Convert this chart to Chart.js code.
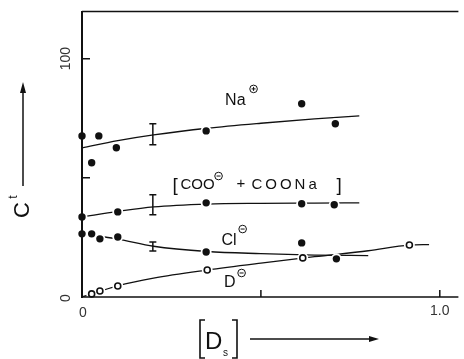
<!DOCTYPE html>
<html>
<head>
<meta charset="utf-8">
<script src="https://cdn.jsdelivr.net/npm/chart.js@4"></script>
<style>
  html, body { margin: 0; padding: 0; background: #fff; }
  #wrap { width: 464px; height: 359px; }
</style>
</head>
<body>
<div id="wrap"><canvas id="chart"></canvas></div>
<script>
// axis ranges and ticks
const xMax = 1.052;
const yMax = 120;
const xTicks = [0.5, 1.0];
const yTicks = [50, 100];

// measured concentrations vs [Ds]
const naX = [0, 0.027, 0.047, 0.096, 0.347, 0.614, 0.708];
const naY = [67.6, 56.3, 67.6, 62.6, 69.7, 81.1, 72.7];
const cooX = [0, 0.1, 0.347, 0.614, 0.705];
const cooY = [33.6, 35.7, 39.5, 39.1, 38.7];
const clX = [0, 0.027, 0.05, 0.1, 0.347, 0.614, 0.711];
const clY = [26.5, 26.5, 24.4, 25.2, 18.9, 22.7, 16.0];
const dX = [0.027, 0.05, 0.1, 0.35, 0.617, 0.915];
const dY = [1.3, 2.5, 4.6, 11.3, 16.4, 21.8];

// hand-drawn trend curves
const naCurveX = [0, 0.1, 0.2, 0.35, 0.5, 0.65, 0.775];
const naCurveY = [62.6, 65.6, 68, 70.8, 72.9, 74.7, 76];
const cooCurveX = [0, 0.1, 0.2, 0.35, 0.5, 0.65, 0.775];
const cooCurveY = [33.6, 35.9, 37.8, 39.0, 39.3, 39.4, 39.5];
const clCurveX = [0, 0.1, 0.2, 0.35, 0.5, 0.65, 0.8];
const clCurveY = [26.5, 24.3, 21.3, 19.1, 18.2, 17.6, 17.4];
const dCurveX = [0, 0.1, 0.2, 0.35, 0.5, 0.65, 0.8, 0.915, 0.97];
const dCurveY = [0, 4.7, 7.9, 11.3, 14.2, 16.9, 19.4, 21.8, 22.0];

// error bars at one concentration: [low, high]
const errX = 0.198;
const naErr = [63.9, 72.7];
const cooErr = [34.5, 42.9];
const clErr = [19.3, 23.1];

const pts = (xs, ys) => xs.map((x, i) => ({ x: x, y: ys[i] }));
const INK = '#111';
const FONT = '"Liberation Sans", Arial, sans-serif';

function curve(xs, ys) {
  return {
    data: pts(xs, ys), showLine: true, borderColor: INK, borderWidth: 1.3,
    pointRadius: 0, cubicInterpolationMode: 'monotone', order: 5
  };
}
function halo(xs, ys) {
  return {
    data: pts(xs, ys), showLine: false, pointRadius: 5.5,
    pointBackgroundColor: '#fff', pointBorderWidth: 0, clip: false, order: 3
  };
}
function filled(xs, ys) {
  return {
    data: pts(xs, ys), showLine: false, pointRadius: 3.7,
    pointBackgroundColor: INK, pointBorderWidth: 0, clip: false, order: 1
  };
}
function hollow(xs, ys) {
  return {
    data: pts(xs, ys), showLine: false, pointRadius: 3,
    pointBackgroundColor: '#fff', pointBorderColor: INK, pointBorderWidth: 1.6,
    clip: false, order: 1
  };
}
function errbar(range) {
  return {
    data: [{ x: errX, y: range[0] }, { x: errX, y: range[1] }],
    showLine: true, borderColor: INK, borderWidth: 1.5,
    pointStyle: 'line', pointRadius: 3.5, pointBorderColor: INK,
    pointBorderWidth: 1.5, order: 2
  };
}

// small circled charge sign
function charge(ctx, cx, cy, sign) {
  ctx.save();
  ctx.lineWidth = 1;
  ctx.beginPath();
  ctx.arc(cx, cy, 3.8, 0, Math.PI * 2);
  ctx.moveTo(cx - 2, cy); ctx.lineTo(cx + 2, cy);
  if (sign > 0) { ctx.moveTo(cx, cy - 2); ctx.lineTo(cx, cy + 2); }
  ctx.stroke();
  ctx.restore();
}

const decor = {
  id: 'decor',
  afterDraw(chart) {
    const { ctx, scales: { x, y } } = chart;
    const X = v => x.getPixelForValue(v);
    const Y = v => y.getPixelForValue(v);
    ctx.save();
    ctx.strokeStyle = INK;
    ctx.fillStyle = INK;

    // frame: left axis, top rule, base line
    ctx.lineWidth = 2;
    ctx.beginPath();
    ctx.moveTo(X(0), Y(yMax)); ctx.lineTo(X(0), Y(0) + 1);
    ctx.stroke();
    ctx.lineWidth = 1.5;
    ctx.beginPath();
    ctx.moveTo(X(0), Y(yMax) + 0.5); ctx.lineTo(X(xMax), Y(yMax) + 0.5);
    ctx.moveTo(X(0), Y(0)); ctx.lineTo(X(xMax), Y(0));
    yTicks.forEach(v => { ctx.moveTo(X(0), Y(v)); ctx.lineTo(X(0) + 8, Y(v)); });
    xTicks.forEach(v => { ctx.moveTo(X(v), Y(0)); ctx.lineTo(X(v), Y(0) - 7); });
    ctx.stroke();

    // tick labels
    ctx.fillStyle = '#333';
    ctx.font = '14px ' + FONT;
    ctx.textAlign = 'center';
    ctx.textBaseline = 'middle';
    [0, 100].forEach(v => {
      ctx.save();
      ctx.translate(X(0) - 16, Y(v) + (v === 0 ? 1 : 0));
      ctx.rotate(-Math.PI / 2);
      ctx.fillText(String(v), 0, 0);
      ctx.restore();
    });
    ctx.fillText('0', X(0) + 1, Y(0) + 16);
    ctx.fillText('1.0', X(1), Y(0) + 14);

    // y title: C^t with arrow
    ctx.fillStyle = INK;
    ctx.save();
    ctx.translate(23, 210);
    ctx.rotate(-Math.PI / 2);
    ctx.font = '22px ' + FONT;
    ctx.fillText('C', 0, 0);
    ctx.font = '12px ' + FONT;
    ctx.fillText('t', 13, -9);
    ctx.restore();
    ctx.lineWidth = 1.5;
    ctx.beginPath();
    ctx.moveTo(23, 186); ctx.lineTo(23, 88);
    ctx.stroke();
    ctx.beginPath();
    ctx.moveTo(23, 82); ctx.lineTo(20, 93); ctx.lineTo(26, 93); ctx.closePath();
    ctx.fill();

    // x title: [Ds] with arrow
    ctx.lineWidth = 1.6;
    ctx.beginPath();
    ctx.moveTo(205, 320); ctx.lineTo(200, 320); ctx.lineTo(200, 358); ctx.lineTo(205, 358);
    ctx.moveTo(232, 320); ctx.lineTo(237, 320); ctx.lineTo(237, 358); ctx.lineTo(232, 358);
    ctx.stroke();
    ctx.font = '24px ' + FONT;
    ctx.textAlign = 'left';
    ctx.textBaseline = 'alphabetic';
    ctx.fillText('D', 205, 349);
    ctx.font = '10px ' + FONT;
    ctx.fillText('s', 223, 356);
    ctx.lineWidth = 1.3;
    ctx.beginPath();
    ctx.moveTo(250, 339); ctx.lineTo(372, 339);
    ctx.stroke();
    ctx.beginPath();
    ctx.moveTo(379, 339); ctx.lineTo(369, 336); ctx.lineTo(369, 342); ctx.closePath();
    ctx.fill();

    // series labels
    ctx.font = '16px ' + FONT;
    ctx.fillText('Na', X(0.4), Y(80.6));
    charge(ctx, X(0.4) + ctx.measureText('Na').width + 8, Y(80.6) - 16, 1);

    const cx0 = X(0.275), cy0 = Y(45.3);
    ctx.font = '19px ' + FONT;
    ctx.fillText('[', cx0 - 8, cy0 + 2);
    ctx.font = '15px ' + FONT;
    ctx.fillText('COO', cx0, cy0);
    charge(ctx, cx0 + ctx.measureText('COO').width + 4, cy0 - 13, -1);
    ctx.fillText('+', cx0 + 56, cy0 - 1);
    ctx.letterSpacing = '3px';
    ctx.fillText('COONa', cx0 + 71, cy0);
    ctx.letterSpacing = '0px';
    ctx.font = '19px ' + FONT;
    ctx.fillText(']', cx0 + 156, cy0 + 2);

    ctx.font = '16px ' + FONT;
    ctx.fillText('Cl', X(0.39), Y(21.8));
    charge(ctx, X(0.39) + ctx.measureText('Cl').width + 6, Y(21.8) - 16, -1);
    ctx.fillText('D', X(0.397), Y(4.2));
    charge(ctx, X(0.397) + ctx.measureText('D').width + 6, Y(4.2) - 14, -1);

    ctx.restore();
  }
};

new Chart(document.getElementById('chart'), {
  type: 'scatter',
  data: {
    datasets: [
      curve(naCurveX, naCurveY), curve(cooCurveX, cooCurveY),
      curve(clCurveX, clCurveY), curve(dCurveX, dCurveY),
      halo(naX, naY), halo(cooX, cooY), halo(clX, clY), halo(dX, dY),
      errbar(naErr), errbar(cooErr), errbar(clErr),
      filled(naX, naY), filled(cooX, cooY), filled(clX, clY), hollow(dX, dY)
    ]
  },
  options: {
    responsive: true,
    maintainAspectRatio: false,
    animation: false,
    layout: { padding: { left: 82, top: 11, right: 0, bottom: 62 } },
    plugins: { legend: { display: false }, tooltip: { enabled: false } },
    scales: {
      x: { type: 'linear', min: 0, max: xMax, display: false },
      y: { type: 'linear', min: 0, max: yMax, display: false }
    }
  },
  plugins: [decor]
});
</script>
</body>
</html>
